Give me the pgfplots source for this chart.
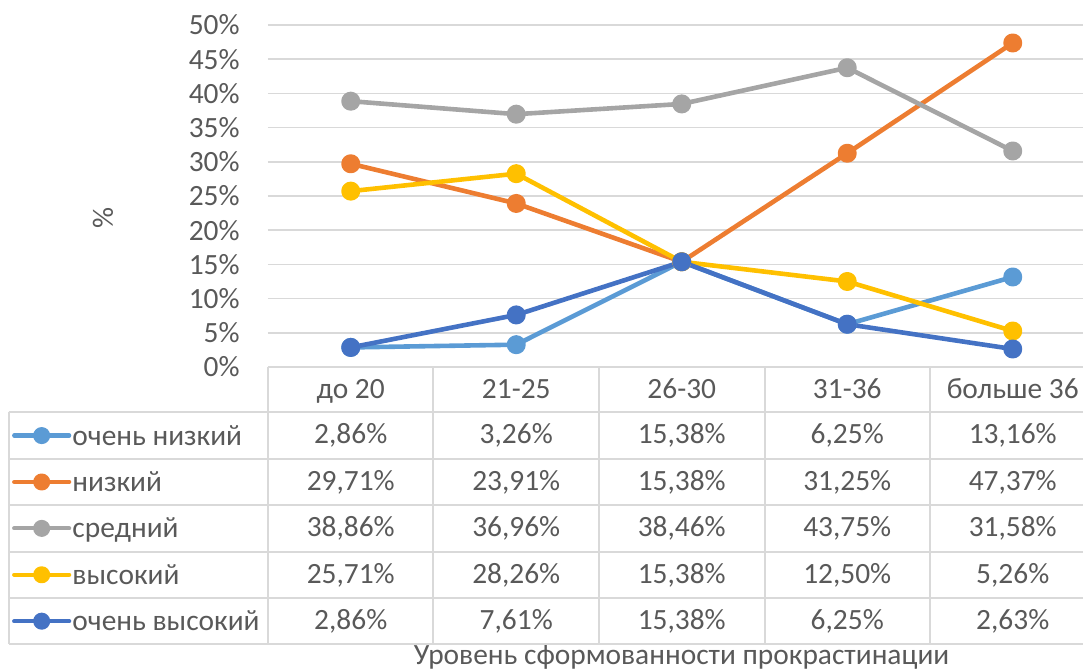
\documentclass[border=0pt]{standalone}
\usepackage{fontspec}
\setmainfont{Carlito}
\usepackage{pgfplots}
\pgfplotsset{compat=1.18}
\definecolor{cA}{HTML}{5B9BD5}
\definecolor{cB}{HTML}{ED7D31}
\definecolor{cC}{HTML}{A5A5A5}
\definecolor{cD}{HTML}{FFC000}
\definecolor{cE}{HTML}{4472C4}
\definecolor{txt}{HTML}{595959}
\definecolor{grd}{HTML}{D9D9D9}
\newcommand{\myfont}{\fontsize{14.7pt}{17pt}\selectfont}
\begin{document}
\myfont
\begin{tikzpicture}
\useasboundingbox (-134pt,-152.5pt) rectangle (407.5pt,183.5pt);
\begin{axis}[
  at={(0pt,0pt)}, anchor=south west,
  scale only axis, width=407.5pt, height=171pt,
  xmin=-0.5, xmax=4.4245, ymin=0, ymax=50,
  xtick=\empty,
  ytick={0,5,...,50},
  yticklabel={\pgfmathparse{int(round(\tick))}\pgfmathresult\%},
  yticklabel style={font=\myfont, text=txt, inner sep=0pt, xshift=-14pt, anchor=east},
  major tick length=0pt,
  ymajorgrids, grid style={grd, line width=0.8pt},
  axis line style={draw=none},
  clip=false,
  xlabel={Уровень сформованности прокрастинации},
  xlabel style={at={(axis description cs:0.5074,-0.8713)}, anchor=base, font=\myfont, text=txt, inner sep=0pt},
  ylabel={\%},
  ylabel style={at={(axis description cs:-0.2025,0.4357)}, anchor=center, rotate=0, font=\myfont, text=txt, inner sep=0pt},
  every axis plot/.append style={line width=2.3pt, line cap=round, line join=round, mark=*, mark size=3.6pt},
  legend cell align=left,
  legend style={draw=none, fill=none, at={(-0.3140,-0.1327)}, anchor=north west,
    inner sep=0pt, outer sep=0pt, row sep=0pt, column sep=0.6pt,
    font=\myfont, text=txt,
    nodes={inner sep=0pt, text height=16.4pt, text depth=6.8pt}},
  legend image code/.code={\draw[line width=2.1pt, mark repeat=2, mark phase=2, mark size=3.2pt] plot coordinates {(0pt,0pt) (13.75pt,0pt) (27.5pt,0pt)};},
]
\addplot[color=cA, mark options={fill=cA}] coordinates {(0,2.86) (1,3.26) (2,15.38) (3,6.25) (4,13.16)};
\addlegendentry{очень низкий}
\addplot[color=cB, mark options={fill=cB}] coordinates {(0,29.71) (1,23.91) (2,15.38) (3,31.25) (4,47.37)};
\addlegendentry{низкий}
\addplot[color=cC, mark options={fill=cC}] coordinates {(0,38.86) (1,36.96) (2,38.46) (3,43.75) (4,31.58)};
\addlegendentry{средний}
\addplot[color=cD, mark options={fill=cD}] coordinates {(0,25.71) (1,28.26) (2,15.38) (3,12.50) (4,5.26)};
\addlegendentry{высокий}
\addplot[color=cE, mark options={fill=cE}] coordinates {(0,2.86) (1,7.61) (2,15.38) (3,6.25) (4,2.63)};
\addlegendentry{очень высокий}
\end{axis}
% data table grid
\begin{scope}[grd, line width=1pt]
\draw (0pt,0pt) -- (407.5pt,0pt);
\foreach \y in {-22.7,-45.9,-69.1,-92.3,-115.5,-138.7} \draw (-129.7pt,\y pt) -- (407.5pt,\y pt);
\draw (-129.7pt,-22.7pt) -- (-129.7pt,-138.7pt);
\foreach \x in {0,82.75,165.5,248.25,331} \draw (\x pt,0pt) -- (\x pt,-138.7pt);
\end{scope}
\begin{scope}[every node/.style={anchor=base, inner sep=0pt, text=txt, font=\myfont}]
\node at (41.375pt,-15.65pt) {до 20};
\node at (124.125pt,-15.65pt) {21-25};
\node at (206.875pt,-15.65pt) {26-30};
\node at (289.625pt,-15.65pt) {31-36};
\node at (372.375pt,-15.65pt) {больше 36};
\node at (41.375pt,-38.5pt) {2,86\%};
\node at (124.125pt,-38.5pt) {3,26\%};
\node at (206.875pt,-38.5pt) {15,38\%};
\node at (289.625pt,-38.5pt) {6,25\%};
\node at (372.375pt,-38.5pt) {13,16\%};
\node at (41.375pt,-61.7pt) {29,71\%};
\node at (124.125pt,-61.7pt) {23,91\%};
\node at (206.875pt,-61.7pt) {15,38\%};
\node at (289.625pt,-61.7pt) {31,25\%};
\node at (372.375pt,-61.7pt) {47,37\%};
\node at (41.375pt,-84.9pt) {38,86\%};
\node at (124.125pt,-84.9pt) {36,96\%};
\node at (206.875pt,-84.9pt) {38,46\%};
\node at (289.625pt,-84.9pt) {43,75\%};
\node at (372.375pt,-84.9pt) {31,58\%};
\node at (41.375pt,-108.1pt) {25,71\%};
\node at (124.125pt,-108.1pt) {28,26\%};
\node at (206.875pt,-108.1pt) {15,38\%};
\node at (289.625pt,-108.1pt) {12,50\%};
\node at (372.375pt,-108.1pt) {5,26\%};
\node at (41.375pt,-131.3pt) {2,86\%};
\node at (124.125pt,-131.3pt) {7,61\%};
\node at (206.875pt,-131.3pt) {15,38\%};
\node at (289.625pt,-131.3pt) {6,25\%};
\node at (372.375pt,-131.3pt) {2,63\%};
\end{scope}
\end{tikzpicture}
\end{document}
